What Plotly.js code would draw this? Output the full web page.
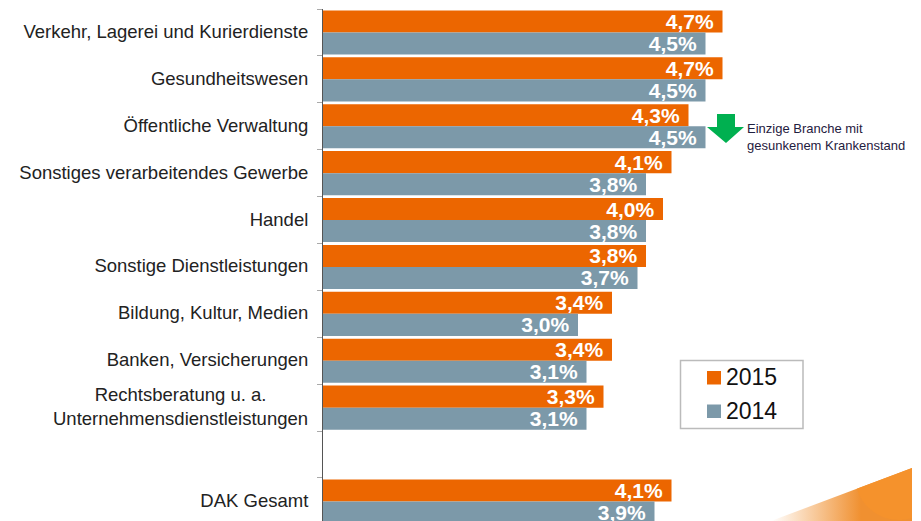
<!DOCTYPE html>
<html><head><meta charset="utf-8">
<script src="https://cdn.plot.ly/plotly-3.0.1.min.js"></script>
<style>html,body{margin:0;padding:0;background:#fff;overflow:hidden}</style>
</head><body><div id="chart" style="width:921px;height:521px"></div>
<script>
const categories = ["Verkehr, Lagerei und Kurierdienste","Gesundheitswesen","Öffentliche Verwaltung","Sonstiges verarbeitendes Gewerbe","Handel","Sonstige Dienstleistungen","Bildung, Kultur, Medien","Banken, Versicherungen","","","DAK Gesamt"];
const positions = [0,1,2,3,4,5,6,7,8,9,10];
const values2015 = [4.7,4.7,4.3,4.1,4.0,3.8,3.4,3.4,3.3,null,4.1];
const values2014 = [4.5,4.5,4.5,3.8,3.8,3.7,3.0,3.1,3.1,null,3.9];
const ORANGE="#ec6600", GREY="#7c99a9";
const W=921,H=521,L=323,T=9;
const px=x=>(x-L)/(W-L), py=y=>1-(y-T)/(H-T);
const swoosh = `<svg xmlns="http://www.w3.org/2000/svg" width="160" height="60"><defs><linearGradient id="g" gradientUnits="userSpaceOnUse" x1="10" x2="100" y1="0" y2="0"><stop offset="0" stop-color="#fff"/><stop offset="1" stop-color="#f09030"/></linearGradient><clipPath id="c"><polygon points="10,60 151,7 151,60"/></clipPath></defs><g clip-path="url(#c)"><rect width="160" height="60" fill="url(#g)"/><circle cx="138" cy="15" r="44" fill="#f5922c"/></g></svg>`;
function bar(name,vals,color){return {type:"bar",orientation:"h",name,y:positions,x:vals,marker:{color},
  texttemplate:"%{x:.1f}%\u00a0",textposition:"inside",insidetextanchor:"end",constraintext:"none",cliponaxis:true,
  textfont:{family:"Liberation Sans",size:21,color:"#fff",weight:700},hoverinfo:"skip"};}
const data=[bar("2015",values2015,ORANGE),bar("2014",values2014,GREY)];
function legendSquare(x0,y0,x1,y1,c){return {type:"rect",xref:"paper",yref:"paper",x0:px(x0),x1:px(x1),y0:py(y0),y1:py(y1),fillcolor:c,line:{width:0}};}
function legendLabel(t,y){return {xref:"paper",yref:"paper",x:px(726),y:py(y),xanchor:"left",yanchor:"middle",showarrow:false,borderpad:0,xshift:-1,text:t,font:{family:"Liberation Sans",size:23,color:"#111"}};}
const layout={width:W,height:H,margin:{l:L,r:0,t:T,b:0,pad:0},paper_bgcolor:"#fff",plot_bgcolor:"rgba(0,0,0,0)",
 separators:",.",barmode:"group",bargap:0.06,bargroupgap:0,showlegend:false,
 font:{family:"Liberation Sans",color:"#222"},
 xaxis:{range:[0,(W-L)/85],visible:false,fixedrange:true},
 yaxis:{range:[10.417,-0.5],tickmode:"array",tickvals:positions,ticktext:categories,ticks:"outside",ticklen:10,tickcolor:"rgba(0,0,0,0)",ticklabelshift:1,
   tickfont:{family:"Liberation Sans",size:18.5,color:"#222"},showline:true,linecolor:"#555",linewidth:1,showgrid:false,zeroline:false,
   minor:{tickmode:"array",tickvals:[-0.5,0.5,1.5,2.5,3.5,4.5,5.5,6.5,7.5,8.5,9.5],ticks:"outside",ticklen:5,tickcolor:"#aaa",tickwidth:1,showgrid:false},fixedrange:true},
 shapes:[{type:"path",xref:"paper",yref:"paper",fillcolor:"#00b050",line:{width:0},
   path:`M${px(717)},${py(114)}L${px(735)},${py(114)}L${px(735)},${py(127)}L${px(744)},${py(127)}L${px(726)},${py(143)}L${px(707)},${py(127)}L${px(717)},${py(127)}Z`},
   {type:"rect",xref:"paper",yref:"paper",x0:px(680.5),x1:px(803),y0:py(360.5),y1:py(428.5),fillcolor:"#fff",line:{color:"#bbb",width:1.5},layer:"between"},
   legendSquare(707,371,721,384.5,ORANGE),legendSquare(707,404.5,721,418,GREY)],
 images:[{source:"data:image/svg+xml;utf8,"+encodeURIComponent(swoosh),xref:"paper",yref:"paper",x:px(761),y:py(461),sizex:160/(W-L),sizey:60/(H-T),xanchor:"left",yanchor:"top",sizing:"stretch",layer:"below"}],
 annotations:[
  {xref:"paper",yref:"paper",x:px(310),y:py(406.5),xanchor:"right",yanchor:"middle",align:"center",showarrow:false,text:"Rechtsberatung u. a.<br>Unternehmensdienstleistungen",font:{family:"Liberation Sans",size:18.5,color:"#222"}},
  {xref:"paper",yref:"paper",x:px(745),y:py(137),xanchor:"left",yanchor:"middle",align:"left",showarrow:false,text:"Einzige Branche mit<br>gesunkenem Krankenstand",font:{family:"Liberation Sans",size:13,color:"#1f2040"}},
  legendLabel("2015",377),legendLabel("2014",411)
 ]};
Plotly.newPlot("chart",data,layout,{displayModeBar:false,staticPlot:true});
</script></body></html>
